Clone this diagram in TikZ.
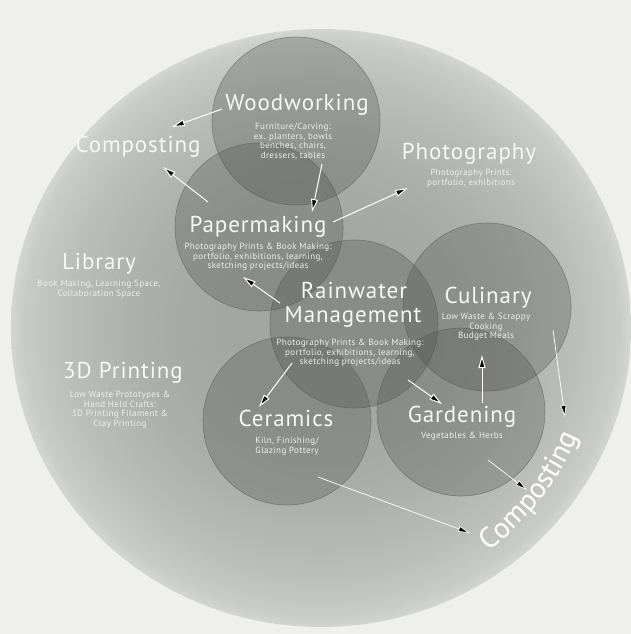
\documentclass[tikz,border=0pt]{standalone}
\usepackage{fontspec}
\setmainfont{PT Sans}
\newfontfamily\headface[LetterSpace=4]{PT Sans}
\newfontfamily\noteface[LetterSpace=4]{PT Sans}
\newfontfamily\rimface[LetterSpace=3]{PT Sans}
\usetikzlibrary{arrows.meta,decorations.text}

\definecolor{paper}{HTML}{EFEFEB}
\definecolor{dA}{HTML}{A3A6A0}
\definecolor{dB}{HTML}{ABAEA8}
\definecolor{dC}{HTML}{BBBEB8}
\definecolor{dD}{HTML}{C9CBC6}
\definecolor{dE}{HTML}{D3D5D0}
\definecolor{discfill}{HTML}{4E514B}
\definecolor{discline}{HTML}{5A5D57}
\definecolor{ink}{HTML}{F7F7F5}
\definecolor{softink}{HTML}{EEEEEA}

% the inner 25bp of a shading is what covers the shaded path
\pgfdeclareradialshading{glow}{\pgfpointorigin}{%
  color(0bp)=(dA); color(7bp)=(dA); color(14bp)=(dB);
  color(20.5bp)=(dC); color(24bp)=(dD); color(25bp)=(dE); color(50bp)=(dE)}

\begin{document}
\begin{tikzpicture}[x=1pt,y=-1pt,
  hub/.style={circle, minimum size=168pt, inner sep=0pt,
    fill=discfill, fill opacity=0.3,
    draw=discline, draw opacity=0.6, line width=0.6pt},
  title/.style={text=ink, anchor=base, inner sep=0pt,
    font=\headface\fontsize{23}{23}\selectfont},
  note/.style={text=softink, anchor=north, inner sep=0pt, align=center,
    font=\noteface\fontsize{9}{9.5}\selectfont},
  flow/.style={draw=white, line width=1pt,
    -{Triangle[length=13pt,width=7pt]}},
  thinflow/.style={draw=white, line width=0.7pt,
    -{Triangle[length=12pt,width=6pt]}}
]
% canvas and the large shaded disc
\useasboundingbox (0,0) rectangle (631,634);
\fill[paper] (0,0) rectangle (631,634);
\coordinate (hubc) at (321,328);
\shade[shading=glow] (hubc) ellipse [x radius=310, y radius=299];

% activity discs
\node[hub] (wood)  at (296,121) {};
\node[hub] (paper) at (259,227) {};
\node[hub] (rain)  at (354,324) {};
\node[hub] (culi)  at (487,307) {};
\node[hub] (cera)  at (287,421) {};
\node[hub] (gard)  at (461,412) {};

% headings
\node[title] (woodT)  at (297,110) {Woodworking};
\node[title] (compL)  at (138,152) {Composting};
\node[title] (photoT) at (469,159) {Photography};
\node[title] (paperT) at (258,232) {Papermaking};
\node[title] (libT)   at (99,269)  {Library};
\node[title] (printT) at (123,378) {3D Printing};
\node[title] (rainT)  at (354,298) {Rainwater};
\node[title] (mgmtT)  at (353,322) {Management};
\node[title] (culiT)  at (488,303) {Culinary};
\node[title] (ceraT)  at (286,426) {Ceramics};
\node[title] (gardT)  at (462,422) {Gardening};

% descriptions
\node[note] (woodN)  at (293,123) {Furniture/Carving:\\ex. planters, bowls\\benches, chairs,\\dressers, tables};
\node[note] (photoN) at (471,169) {Photography Prints:\\portfolio, exhibitions};
\node[note] (paperN) at (258,243) {Photography Prints \& Book Making:\\portfolio, exhibitions, learning,\\sketching projects/ideas};
\node[note] (libN)   at (99,280)  {Book Making, Learning Space,\\Collaboration Space};
\node[note] (printN) at (120,391) {Low Waste Prototypes \&\\Hand Held Crafts:\\3D Printing Filament \&\\Clay Printing};
\node[note] (rainN)  at (350,339) {Photography Prints \& Book Making:\\portfolio, exhibitions, learning,\\sketching projects/ideas};
\node[note] (culiN)  at (486,313) {Low Waste \& Scrappy\\Cooking\\Budget Meals};
\node[note] (ceraN)  at (287,437) {Kiln, Finishing/\\Glazing Pottery};
\node[note] (gardN)  at (462,432) {Vegetables \& Herbs};

% composting label set along the rim
\path[decorate, decoration={text along path, text align=center,
    text color=white, text={|\rimface\fontsize{29}{29}\selectfont|Composting}}]
  (hubc) ++(68:279) arc[start angle=68, end angle=8, radius=279];

% flow end points
\coordinate (wood-a)  at (222,109); \coordinate (compL-a) at (172,127);
\coordinate (paper-a) at (208,202); \coordinate (compL-b) at (163,167);
\coordinate (wood-b)  at (322,164); \coordinate (paper-b) at (312,212);
\coordinate (paper-c) at (333,222); \coordinate (photo-a) at (408,188);
\coordinate (rain-a)  at (280,303); \coordinate (paper-d) at (243,277);
\coordinate (rain-b)  at (292,363); \coordinate (cera-a)  at (259,407);
\coordinate (rain-c)  at (408,380); \coordinate (gard-a)  at (442,404);
\coordinate (gard-b)  at (482,403); \coordinate (culi-a)  at (482,355);
\coordinate (culi-b)  at (553,330); \coordinate (compR-a) at (565,417);
\coordinate (cera-b)  at (318,477); \coordinate (compR-b) at (470,533);
\coordinate (gard-c)  at (488,460); \coordinate (compR-c) at (527,490);

% flows
\draw[flow] (wood-a)  -- (compL-a);
\draw[flow] (paper-a) -- (compL-b);
\draw[flow] (wood-b)  -- (paper-b);
\draw[flow] (paper-c) -- (photo-a);
\draw[flow] (rain-a)  -- (paper-d);
\draw[flow] (rain-b)  -- (cera-a);
\draw[flow] (rain-c)  -- (gard-a);
\draw[flow] (gard-b)  -- (culi-a);
\draw[thinflow] (culi-b)  -- (compR-a);
\draw[thinflow] (cera-b)  -- (compR-b);
\draw[thinflow] (gard-c)  -- (compR-c);
\end{tikzpicture}
\end{document}
